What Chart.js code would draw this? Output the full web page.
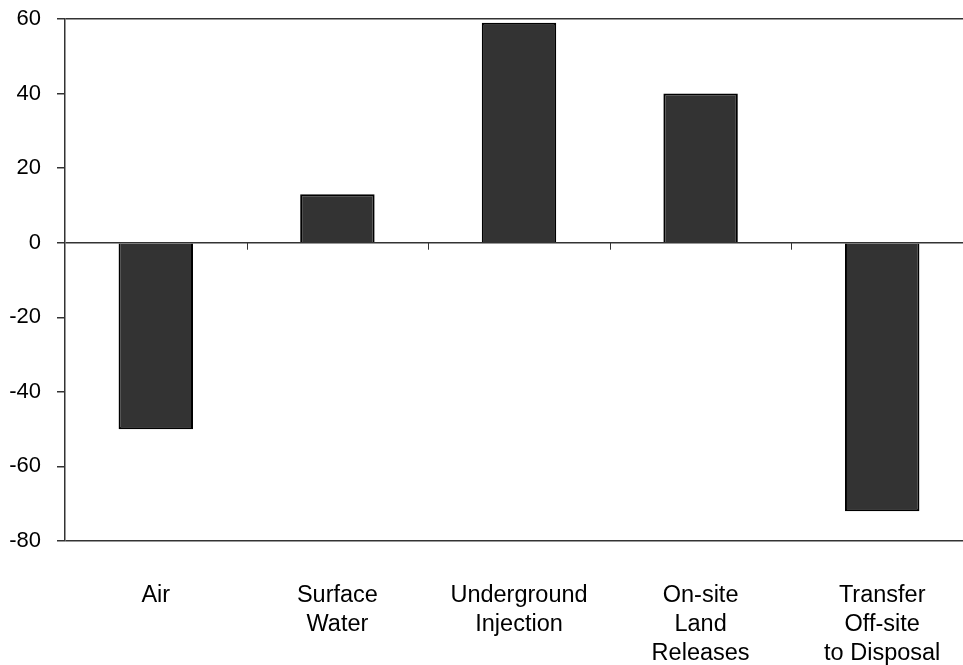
<!DOCTYPE html>
<html><head><meta charset="utf-8">
<script src="https://cdn.jsdelivr.net/npm/chart.js@4/dist/chart.umd.min.js"></script>
<style>html,body{margin:0;padding:0;overflow:hidden;background:#fff}#wrap{width:973px;height:665px;position:relative}</style>
</head><body><div id="wrap"><canvas id="c"></canvas></div>
<script>
const categories = [["Air"], ["Surface","Water"], ["Underground","Injection"], ["On-site","Land","Releases"], ["Transfer","Off-site","to Disposal"]];
const values = [-50, 13, 59, 40, -72];
const yMin = -80, yMax = 60, yStep = 20;
const lineValues = [60, 0, -80];

const zeroTicks = {
  id: 'zeroTicks',
  afterDatasetsDraw(chart) {
    const x = chart.scales.x, y = chart.scales.y, ctx = chart.ctx;
    const y0 = y.getPixelForValue(0);
    ctx.save();
    ctx.strokeStyle = '#333';
    ctx.lineWidth = 1;
    for (let i = 0; i < categories.length - 1; i++) {
      const px = Math.round((x.getPixelForValue(i) + x.getPixelForValue(i + 1)) / 2) + 0.5;
      ctx.beginPath(); ctx.moveTo(px, y0); ctx.lineTo(px, y0 + 7); ctx.stroke();
    }
    ctx.restore();
  }
};

new Chart(document.getElementById('c'), {
  type: 'bar',
  data: { labels: categories, datasets: [{ data: values, backgroundColor: '#333333', borderColor: '#000000', borderWidth: 2, barPercentage: 0.41, categoryPercentage: 1 }] },
  options: {
    responsive: true, maintainAspectRatio: false, animation: false,
    layout: { padding: { top: 19, right: 0, left: 0, bottom: 0 } },
    plugins: { legend: { display: false }, tooltip: { enabled: false } },
    scales: {
      x: {
        grid: { display: false },
        border: { display: false },
        ticks: { color: '#000', font: { family: 'Liberation Sans, Arial, sans-serif', size: 23.5, lineHeight: 1.23 }, padding: 32, maxRotation: 0, autoSkip: false },
        afterFit(s) { s.height = 124; s.paddingLeft = 0; s.paddingRight = 0; }
      },
      y: {
        min: yMin, max: yMax,
        ticks: { stepSize: yStep, color: '#000', font: { family: 'Liberation Sans, Arial, sans-serif', size: 22 }, padding: 16 },
        grid: {
          color: c => lineValues.includes(c.tick.value) ? '#333' : 'rgba(0,0,0,0)',
          lineWidth: 1.5, tickColor: '#333', tickLength: 8, drawTicks: true
        },
        border: { display: true, color: '#333', width: 1.5 },
        afterFit(s) { s.width = 65; s.paddingTop = 0; s.paddingBottom = 0; }
      }
    }
  },
  plugins: [zeroTicks]
});
</script></body></html>
